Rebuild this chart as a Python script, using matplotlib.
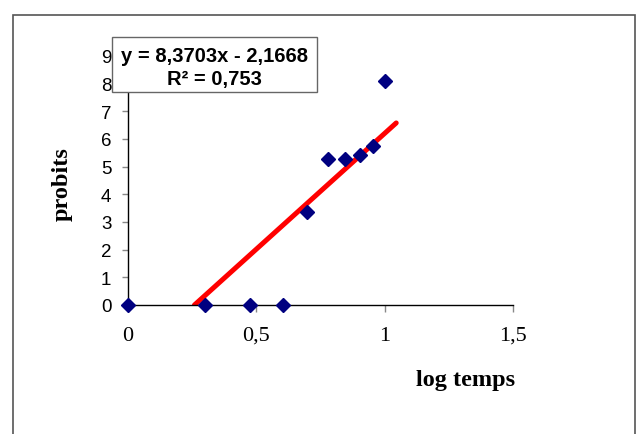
import matplotlib.pyplot as plt
import numpy as np
from matplotlib.patches import Rectangle

# log of time vs probit values
log_temps = [0.0, 0.301, 0.477, 0.602, 0.699, 0.778, 0.845, 0.903, 0.954, 1.0]
probits = [0.0, 0.0, 0.0, 0.0, 3.37, 5.27, 5.27, 5.41, 5.73, 8.08]

# trend line given by the chart
slope = 8.3703
intercept = -2.1668
r2 = 0.753
trend_end = 1.045

fig = plt.figure(figsize=(6.43, 4.35), dpi=100)
ax = fig.add_axes([128 / 643, 1 - 306 / 435, (513 - 128) / 643, (306 - 57) / 435])

# trend line from where it crosses zero to just past the last point
x0 = -intercept / slope
xs = np.array([x0, trend_end])
ax.plot(xs, slope * xs + intercept, color="red", lw=3.6, solid_capstyle="round", zorder=2)

ax.plot(log_temps, probits, linestyle="none", marker="D", markersize=7.5,
        color="#000080", clip_on=False, zorder=3)

ax.set_xlim(0, 1.5)
ax.set_ylim(0, 9)
ax.set_xticks([0, 0.5, 1, 1.5])
ax.set_xticklabels(["0", "0,5", "1", "1,5"], family="Liberation Serif", fontsize=16)
ax.set_yticks(range(10))
ax.set_yticklabels([str(i) for i in range(10)], family="Liberation Sans", fontsize=13.5)

ax.spines["top"].set_visible(False)
ax.spines["right"].set_visible(False)
for s in ("left", "bottom"):
    ax.spines[s].set_linewidth(1.0)
ax.tick_params(axis="y", direction="out", length=4, width=1, color="#888888", pad=8)
ax.tick_params(axis="x", direction="out", length=5, width=1, color="#888888", pad=10)

fig.text(62 / 643, 1 - 184 / 435, "probits", rotation=90, ha="center", va="center",
         family="Liberation Serif", fontweight="bold", fontsize=17.5)
fig.text(466 / 643, 1 - 381 / 435, "log temps", ha="center", va="center",
         family="Liberation Serif", fontweight="bold", fontsize=17.5)

# equation box
fig.patches.append(Rectangle((112 / 643, 1 - 93 / 435), (317 - 112) / 643, (93 - 38) / 435,
                             transform=fig.transFigure, fill=True, facecolor="white",
                             edgecolor="#666666", lw=1.0, zorder=5))
eq = f"y = {slope:.4f}x - {-intercept:.4f}".replace(".", ",")
fig.text(214 / 643, 1 - 56 / 435, eq, ha="center", va="center", family="Liberation Sans",
         fontweight="bold", fontsize=14.5, zorder=6)
fig.text(214 / 643, 1 - 79 / 435, f"R² = {r2:.3f}".replace(".", ","), ha="center", va="center",
         family="Liberation Sans", fontweight="bold", fontsize=14.5, zorder=6)

# outer chart-area border
fig.patches.append(Rectangle((13 / 643, -0.05), (635 - 13) / 643, 1 - 16 / 435 + 0.05,
                             transform=fig.transFigure, fill=False, edgecolor="#555555",
                             lw=1.2, clip_on=False))

fig.savefig("out.png", dpi=100)
